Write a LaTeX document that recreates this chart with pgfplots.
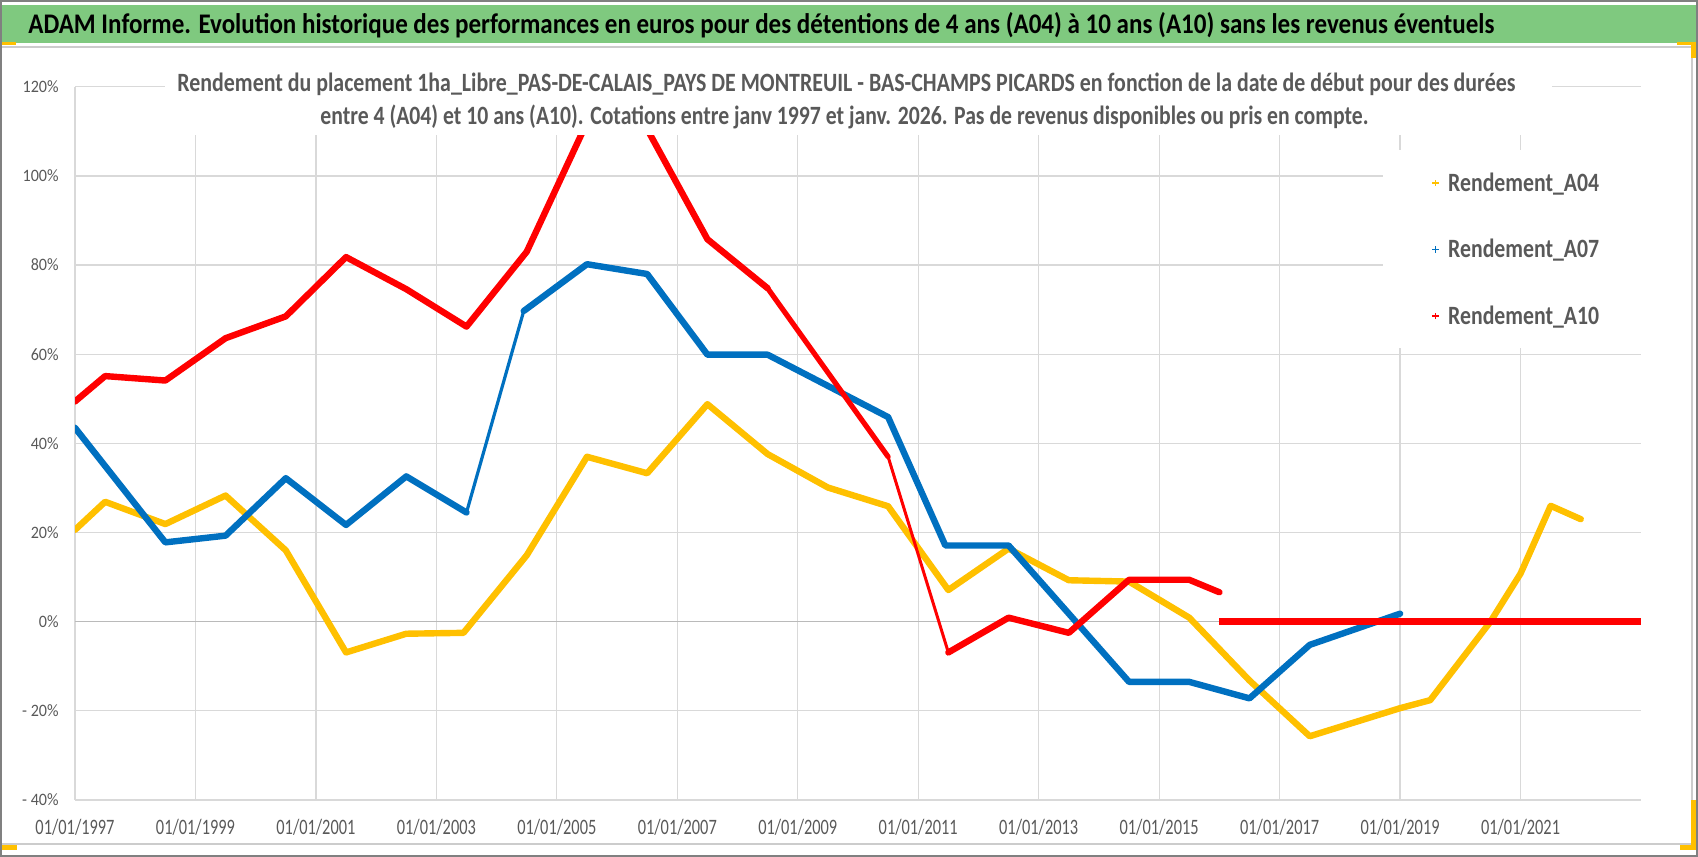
\documentclass[border=0pt]{standalone}
\usepackage{pgfplots}
\pgfplotsset{compat=1.18}
\usepackage{graphicx}
\usepackage{fontspec}
\setmainfont{Carlito}
\definecolor{cA}{HTML}{FFC000}
\definecolor{cB}{HTML}{0070C0}
\definecolor{cC}{HTML}{FF0000}
\definecolor{hdr}{HTML}{7FC97F}
\definecolor{grd}{HTML}{D9D9D9}
\definecolor{txt}{HTML}{595959}
\newsavebox\tbox
\newcommand\fitto[2]{\sbox\tbox{#2}\pgfmathsetmacro\tmpfac{#1/\wd\tbox}\scalebox{\tmpfac}[1]{\usebox\tbox}}
\newcommand\titlefont{\fontsize{14.2bp}{17bp}\selectfont\bfseries}
\newcommand\subfont{\fontsize{13.2bp}{16bp}\selectfont\bfseries}
\newcommand\xtfont{\fontsize{11bp}{13bp}\selectfont}
\newcommand\ytfont{\fontsize{8.7bp}{10bp}\selectfont}
\newcommand\lgfont{\fontsize{13.2bp}{16bp}\selectfont\bfseries}
\newcommand\xtl[1]{\scalebox{\xfac}[1]{#1}}
\newcommand\ytl[1]{\scalebox{\yfac}[1]{#1}}
\newcommand\lgt[1]{\scalebox{\lfac}[1]{#1}}
\begin{document}
\sbox\tbox{\xtfont 01/01/1997}\pgfmathsetmacro\xfac{39.5bp/\wd\tbox}%
\sbox\tbox{\ytfont 120\%}\pgfmathsetmacro\yfac{18bp/\wd\tbox}%
\sbox\tbox{\lgfont Rendement\_A04}\pgfmathsetmacro\lfac{75.5bp/\wd\tbox}%
\begin{tikzpicture}
\path[use as bounding box] (0,0) rectangle (849bp,428.5bp);
% chart area frame
\draw[black!20, line width=0.9bp] (0.5bp,405bp) rectangle (846bp,6.5bp);
\begin{axis}[
  at={(37.5bp,28.5bp)}, anchor=south west,
  scale only axis, width=783bp, height=356.6bp,
  xmin=1997, xmax=2023, ymin=-40, ymax=120,
  axis line style={draw=none},
  major tick length=0pt,
  xtick={1997,1999,...,2021},
  xticklabels={\xtl{01/01/1997},\xtl{01/01/1999},\xtl{01/01/2001},\xtl{01/01/2003},\xtl{01/01/2005},\xtl{01/01/2007},\xtl{01/01/2009},\xtl{01/01/2011},\xtl{01/01/2013},\xtl{01/01/2015},\xtl{01/01/2017},\xtl{01/01/2019},\xtl{01/01/2021}},
  ytick={-40,-20,...,120},
  yticklabels={\ytl{- 40\%},\ytl{- 20\%},\ytl{0\%},\ytl{20\%},\ytl{40\%},\ytl{60\%},\ytl{80\%},\ytl{100\%},\ytl{120\%}},
  grid=major, grid style={grd, line width=0.65bp},
  extra y ticks={0}, extra y tick labels={},
  extra y tick style={grid style={black!27, line width=0.65bp}},
  xticklabel style={anchor=base, inner sep=0pt, yshift=-17.5bp, text=txt, font=\xtfont},
  yticklabel style={anchor=east, inner sep=0pt, xshift=-8bp, text=txt, font=\ytfont},
  legend cell align=left,
  legend style={at={(axis description cs:0.8664,0.8769)}, anchor=north west,
    draw=none, fill=none, inner sep=0pt, outer sep=0pt,
    font=\lgfont, text=txt, row sep=24.85bp, column sep=4.4bp,
    nodes={inner sep=0pt, text height=8.4bp, text depth=0pt}},
]
% A04
\addplot[cA, line width=3.2bp, line join=round, line cap=round, forget plot] coordinates {
(1997.0,20.6) (1997.5,26.9) (1998.5,21.9) (1999.5,28.3) (2000.5,16.0) (2001.5,-6.9)
(2002.5,-2.7) (2003.45,-2.5) (2004.5,14.9) (2005.5,37.0) (2006.5,33.3) (2007.5,48.8)
(2008.5,37.6) (2009.5,30.1) (2010.5,25.9) (2011.5,7.1) (2012.5,16.4) (2013.5,9.3)
(2014.5,9.0) (2015.5,0.9) (2016.5,-13.2) (2017.5,-25.7) (2019.0,-19.4) (2019.5,-17.6)
(2020.5,0.0) (2021.0,10.8) (2021.5,26.0) (2022.0,23.0)};
% A07
\addplot[cB, line width=3.2bp, line join=round, line cap=round, forget plot] coordinates {
(1997.0,43.5) (1998.5,17.8) (1999.5,19.3) (2000.5,32.2) (2001.5,21.7) (2002.5,32.6) (2003.5,24.5)};
\addplot[cB, line width=1.6bp, line join=round, line cap=round, forget plot] coordinates {
(2003.5,24.5) (2004.45,69.7)};
\addplot[cB, line width=3.2bp, line join=round, line cap=round, forget plot] coordinates {
(2004.45,69.7) (2005.5,80.2) (2006.5,78.0) (2007.5,59.9) (2008.5,59.9) (2010.5,45.9)
(2011.45,17.1) (2012.5,17.1) (2014.5,-13.5) (2015.5,-13.5) (2016.5,-17.2) (2017.5,-5.2) (2019.0,1.8)};
% A10
\addplot[cC, line width=3.2bp, line join=round, line cap=round, forget plot] coordinates {
(1997.0,49.4) (1997.5,55.1) (1998.5,54.1) (1999.5,63.6) (2000.5,68.5) (2001.5,81.8)
(2002.5,74.6) (2003.5,66.2) (2004.5,83.0) (2005.5,112.0) (2006.5,110.5) (2007.5,85.8) (2008.5,74.8)};
\addplot[cC, line width=2.6bp, line join=round, line cap=round, forget plot] coordinates {
(2008.5,74.8) (2010.5,37.0)};
\addplot[cC, line width=1.5bp, line join=round, line cap=round, forget plot] coordinates {
(2010.5,37.0) (2011.5,-6.9)};
\addplot[cC, line width=3.2bp, line join=round, line cap=round, forget plot] coordinates {
(2011.5,-6.9) (2012.5,0.9) (2013.5,-2.5) (2014.5,9.4) (2015.5,9.4) (2016.0,6.6)};
\addplot[cC, line width=3.4bp, forget plot] coordinates {
(2016.0,0.0) (2023.0,0.0)};
% title and legend backgrounds
\fill[white] (axis cs:1998.494,109.17) rectangle (axis cs:2021.523,125);
\fill[white] (axis cs:2018.717,61.34) rectangle (axis cs:2024,105.76);
\addlegendimage{legend image code/.code={\draw[cA, line width=0.6bp] (-1.6bp,0)--(1.6bp,0) (0,-1.6bp)--(0,1.6bp);}}
\addlegendentry{\lgt{Rendement\_A04}}
\addlegendimage{legend image code/.code={\draw[cB, line width=0.6bp] (-1.6bp,0)--(1.6bp,0) (0,-1.6bp)--(0,1.6bp);}}
\addlegendentry{\lgt{Rendement\_A07}}
\addlegendimage{legend image code/.code={\draw[cC, line width=0.6bp] (-1.6bp,0)--(1.6bp,0) (0,-1.6bp)--(0,1.6bp);}}
\addlegendentry{\lgt{Rendement\_A10}}
\end{axis}
% header
\fill[hdr] (0,407bp) rectangle (849bp,426bp);
\node[anchor=base west, inner sep=0pt] at (14bp,411.5bp) {\fitto{733bp}{\titlefont ADAM Informe. Evolution historique des performances en euros pour des détentions de 4 ans (A04) à 10 ans (A10) sans les revenus éventuels}};
% subtitle
\node[anchor=base west, inner sep=0pt, text=txt] at (88.5bp,382.5bp) {\fitto{669bp}{\subfont Rendement du placement 1ha\_Libre\_PAS-DE-CALAIS\_PAYS DE MONTREUIL - BAS-CHAMPS PICARDS en fonction de la date de début pour des durées}};
\node[anchor=base west, inner sep=0pt, text=txt] at (160bp,366bp) {\fitto{524bp}{\subfont entre 4 (A04) et 10 ans (A10).  Cotations entre janv 1997 et janv. 2026. Pas de revenus disponibles ou pris en compte.}};
% selection handles
\fill[cA] (0,406bp) rectangle (8bp,407.3bp);
\fill[cA] (1bp,3.5bp) rectangle (8.5bp,6bp);
\fill[cA] (838.5bp,406bp) rectangle (848bp,407.5bp);
\fill[cA] (845.5bp,399.5bp) rectangle (848bp,407.5bp);
\fill[cA] (845.5bp,3.5bp) rectangle (848bp,28.5bp);
\fill[cA] (840bp,3.5bp) rectangle (848bp,6bp);
% outer border
\draw[black!50, line width=0.8bp] (0.4bp,0.4bp) rectangle (848.6bp,428.1bp);
\end{tikzpicture}
\end{document}
